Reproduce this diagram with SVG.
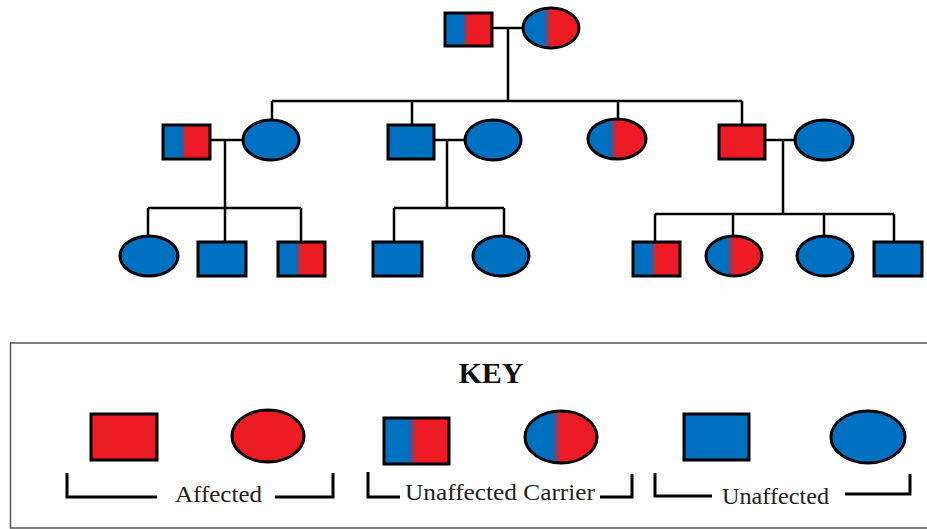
<svg xmlns="http://www.w3.org/2000/svg" width="927" height="529" viewBox="0 0 927 529">
<defs>
<linearGradient id="carrier" x1="0" y1="0" x2="1" y2="0">
<stop offset="0" stop-color="#0070C0"/>
<stop offset="0.37" stop-color="#0070C0"/>
<stop offset="0.5" stop-color="#ED1C24"/>
<stop offset="1" stop-color="#ED1C24"/>
</linearGradient>
</defs>
<style>
.sh{stroke:#000;stroke-width:3}
.b{fill:#0070C0}
.r{fill:#ED1C24}
.c{fill:url(#carrier)}
.ln{stroke:#000;stroke-width:2.5;fill:none}
.br{stroke:#000;stroke-width:3;fill:none}
.t{font-family:"Liberation Serif","Times New Roman",serif;font-size:23px;fill:#222}
</style>
<rect width="927" height="529" fill="#fff"/>
<g id="connectors">
<path class="ln" d="M493 28H523M508 28V102M272 101H742M272 101V119M412 101V125M618 101V118M742 101V125"/>
<path class="ln" d="M211 140H243M225 140V208M148 208H301M148 208V236M225 208V242M301 208V242"/>
<path class="ln" d="M435 140H465M447 140V208M394 208H504M394 208V242M504 208V236"/>
<path class="ln" d="M766 140H795M783 140V214M655 214H894M655 214V242M733 214V236M824 214V236M894 214V242"/>
</g>
<g id="gen1-father"><rect class="sh c" x="445" y="13" width="47" height="33"/></g>
<g id="gen1-mother"><ellipse class="sh c" cx="551" cy="28" rx="28" ry="20"/></g>
<g id="gen2-son1"><rect class="sh c" x="163" y="125" width="47" height="34"/></g>
<g id="gen2-wife1"><ellipse class="sh b" cx="271" cy="140" rx="28" ry="20"/></g>
<g id="gen2-son2"><rect class="sh b" x="388" y="125" width="46" height="34"/></g>
<g id="gen2-wife2"><ellipse class="sh b" cx="493" cy="140" rx="28" ry="20"/></g>
<g id="gen2-daughter"><ellipse class="sh c" cx="617" cy="139" rx="29" ry="20"/></g>
<g id="gen2-son3"><rect class="sh r" x="719" y="125" width="46" height="34"/></g>
<g id="gen2-wife3"><ellipse class="sh b" cx="824" cy="140" rx="29" ry="20"/></g>
<g id="gen3-a1"><ellipse class="sh b" cx="149" cy="256" rx="29" ry="20"/></g>
<g id="gen3-a2"><rect class="sh b" x="198" y="242" width="48" height="34"/></g>
<g id="gen3-a3"><rect class="sh c" x="278" y="242" width="47" height="34"/></g>
<g id="gen3-b1"><rect class="sh b" x="373" y="242" width="49" height="34"/></g>
<g id="gen3-b2"><ellipse class="sh b" cx="501" cy="256" rx="28" ry="20"/></g>
<g id="gen3-c1"><rect class="sh c" x="633" y="242" width="47" height="34"/></g>
<g id="gen3-c2"><ellipse class="sh c" cx="734" cy="256" rx="28" ry="20"/></g>
<g id="gen3-c3"><ellipse class="sh b" cx="825" cy="256" rx="28" ry="20"/></g>
<g id="gen3-c4"><rect class="sh b" x="874" y="242" width="48" height="34"/></g>
<g id="key">
<rect x="10.5" y="343" width="930" height="185" fill="none" stroke="#555" stroke-width="1.5"/>
<text x="491" y="383" text-anchor="middle" font-family="Liberation Serif,'Times New Roman',serif" font-size="30" font-weight="bold" fill="#111">KEY</text>
<rect class="sh r" x="91" y="414" width="66" height="46"/>
<ellipse class="sh r" cx="268" cy="436" rx="36" ry="26"/>
<rect class="sh c" x="384" y="418" width="65" height="46"/>
<ellipse class="sh c" cx="561" cy="437" rx="36" ry="26"/>
<rect class="sh b" x="684" y="414" width="65" height="46"/>
<ellipse class="sh b" cx="868" cy="437" rx="37" ry="26"/>
<path class="br" d="M67 473V497H157M275 497H333V473"/>
<text class="t" x="175" y="502" textLength="87" lengthAdjust="spacingAndGlyphs">Affected</text>
<path class="br" d="M368 472V497H400M600 497H632V474"/>
<text class="t" x="405" y="500" textLength="190" lengthAdjust="spacingAndGlyphs">Unaffected Carrier</text>
<path class="br" d="M655 473V496H712M845 494H910V474"/>
<text class="t" x="722" y="504" textLength="107" lengthAdjust="spacingAndGlyphs">Unaffected</text>
</g>
</svg>
